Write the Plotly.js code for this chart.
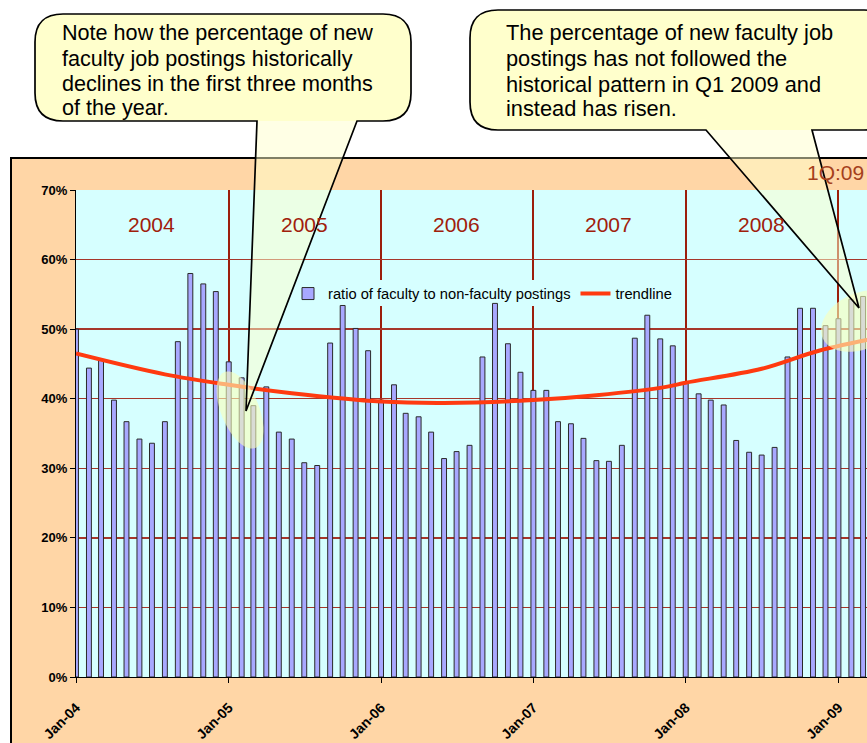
<!DOCTYPE html>
<html><head><meta charset="utf-8">
<script src="https://cdn.plot.ly/plotly-3.0.1.min.js"></script>
<style>
html,body{margin:0;padding:0;background:#fff;overflow:hidden;width:867px;height:743px;}
#box{position:absolute;left:10px;top:157px;width:900px;height:700px;background:#FFD6A6;border-left:2px solid #000;border-top:2px solid #000;}
#chart{position:absolute;left:0;top:0;width:880px;height:743px;}
</style></head><body>
<div id="box"></div><div id="chart"></div>
<script>
// ---- data ----
const v2004 = [50.0, 44.4, 45.5, 39.8, 36.7, 34.2, 33.6, 36.7, 48.2, 58.0, 56.5, 55.4];
const v2005 = [45.3, 43.0, 39.0, 41.7, 35.2, 34.2, 30.8, 30.4, 48.0, 53.4, 50.1, 46.9];
const v2006 = [39.8, 42.0, 37.9, 37.4, 35.2, 31.4, 32.4, 33.3, 46.0, 53.7, 47.9, 43.8];
const v2007 = [41.2, 41.2, 36.7, 36.4, 34.3, 31.1, 31.0, 33.3, 48.7, 52.0, 48.6, 47.6];
const v2008 = [42.2, 40.7, 39.8, 39.1, 34.0, 32.3, 31.9, 33.0, 46.0, 53.0, 53.0, 50.5];
const v2009 = [51.5, 54.3, 54.7];
const ratioValues = [].concat(v2004, v2005, v2006, v2007, v2008, v2009);
const firstYear = 2004;
const months = ratioValues.map((_, i) => {
  const y = firstYear + Math.floor(i / 12), m = (i % 12) + 1;
  return y + '-' + String(m).padStart(2, '0') + '-01';
});

const trendDates  = ['2004-01-01','2004-08-01','2005-01-01','2005-06-01','2006-01-01','2006-06-01','2007-01-01','2007-06-01','2007-11-15','2008-01-01','2008-07-01','2008-11-15','2009-04-01'];
const trendValues = [46.5, 43.5, 42.0, 40.8, 39.6, 39.4, 39.8, 40.5, 41.7, 42.3, 44.3, 46.9, 48.7];

const yearLabels  = ['2004','2005','2006','2007','2008'];
const yearCenters = ['2004-07-01','2005-07-01','2006-07-01','2007-07-01','2008-07-01'];
const quarterLabel = '1Q:09';

const leftNote  = ['Note how the percentage of new','faculty job postings historically','declines in the first three months','of the year.'];
const rightNote = ['The percentage of new faculty job','postings has not followed the','historical pattern in Q1 2009 and','instead has risen.'];

// ---- layout geometry ----
const L = 76, T = 190, W = 800, H = 487;
const X0 = '2004-01-01', X1 = '2009-04-01';
const px = x => (x - L) / W;
const py = y => (T + H - y) / H;
const P = (x, y) => px(x).toFixed(5) + ',' + py(y).toFixed(5);
const tA = Date.parse(X0), tB = Date.parse(X1);
const pxDate = x => new Date(tA + (x - L) / W * (tB - tA)).toISOString();
const pxVal = y => (T + H - y) / H * 70;

function boxPath(x0, y0, x1, y1, r, tail) {
  let d = 'M' + P(x0 + r, y0) + ' L' + P(x1 - r, y0) + ' Q' + P(x1, y0) + ' ' + P(x1, y0 + r) +
          ' L' + P(x1, y1 - r) + ' Q' + P(x1, y1) + ' ' + P(x1 - r, y1);
  if (tail) d += ' L' + P(tail.b2, y1) + ' L' + P(tail.tx, tail.ty) + ' L' + P(tail.b1, y1);
  d += ' L' + P(x0 + r, y1) + ' Q' + P(x0, y1) + ' ' + P(x0, y1 - r) +
       ' L' + P(x0, y0 + r) + ' Q' + P(x0, y0) + ' ' + P(x0 + r, y0) + ' Z';
  return d;
}
function ellipsePath(cx, cy, a, b, ux, uy) {
  const n = Math.hypot(ux, uy); ux /= n; uy /= n;
  const vx = -uy, vy = ux;
  let d = '';
  for (let k = 0; k <= 48; k++) {
    const t = 2 * Math.PI * k / 48;
    const x = cx + a * Math.cos(t) * ux + b * Math.sin(t) * vx;
    const y = cy + a * Math.cos(t) * uy + b * Math.sin(t) * vy;
    d += (k === 0 ? 'M' : ' L') + P(x, y);
  }
  return d + ' Z';
}

const leftBox  = {x0: 35, y0: 14, x1: 411, y1: 121, r: 28, tail: {b1: 257, b2: 357, tx: 246, ty: 411}};
const rightBox = {x0: 470, y0: 10, x1: 892, y1: 130, r: 28, tail: {b1: 706, b2: 812, tx: 859, ty: 308}};

const shapes = [];
// legend background: hides gridlines but stays under the bars
shapes.push({type: 'rect', xref: 'x', yref: 'y', layer: 'between',
  x0: pxDate(286), x1: pxDate(672), y0: pxVal(306), y1: pxVal(280),
  fillcolor: '#D6FFFF', line: {width: 0}});
[leftBox, rightBox].forEach(b => {
  shapes.push({type: 'path', xref: 'paper', yref: 'paper', layer: 'above',
    path: boxPath(b.x0, b.y0, b.x1, b.y1, b.r, null), fillcolor: '#FFFFCC', line: {width: 0}});
});
shapes.push({type: 'path', xref: 'paper', yref: 'paper', layer: 'above',
  path: ellipsePath(240, 410, 41, 19, 0.38, 0.93), fillcolor: 'rgba(250,255,185,0.6)', line: {width: 0}});
shapes.push({type: 'path', xref: 'paper', yref: 'paper', layer: 'above',
  path: ellipsePath(861, 321, 42, 28, 0.91, -0.41), fillcolor: 'rgba(250,255,185,0.6)', line: {width: 0}});
[leftBox, rightBox].forEach(b => {
  shapes.push({type: 'path', xref: 'paper', yref: 'paper', layer: 'above',
    path: boxPath(b.x0, b.y0, b.x1, b.y1, b.r, b.tail), fillcolor: 'rgba(255,255,204,0.5)',
    line: {color: '#000', width: 1.7}});
});

const FONT = 'Arial, "Liberation Sans", sans-serif';
const annotations = [];
yearLabels.forEach((t, i) => annotations.push({xref: 'x', yref: 'y', x: yearCenters[i], y: 65,
  text: t, showarrow: false, font: {family: FONT, size: 21, color: '#A0200C'}, xanchor: 'center', yanchor: 'middle'}));
annotations.push({xref: 'paper', yref: 'paper', x: px(835), y: py(172), text: quarterLabel, showarrow: false,
  font: {family: FONT, size: 21, color: '#A5401C'}, xanchor: 'center', yanchor: 'middle'});
const lineY = [33, 58, 83, 107];
leftNote.forEach((t, i) => annotations.push({xref: 'paper', yref: 'paper', x: px(60), y: py(lineY[i]), text: t,
  showarrow: false, font: {family: FONT, size: 21.6, color: '#000'}, xanchor: 'left', yanchor: 'middle'}));
const lineY2 = [33, 59, 84, 108];
rightNote.forEach((t, i) => annotations.push({xref: 'paper', yref: 'paper', x: px(504), y: py(lineY2[i]), text: t,
  showarrow: false, font: {family: FONT, size: 21.8, color: '#000'}, xanchor: 'left', yanchor: 'middle'}));

const traces = [
  {type: 'bar', name: 'ratio of faculty to non-faculty postings', x: months, y: ratioValues,
   marker: {color: '#A8A8FF', line: {color: '#2a2a2a', width: 1}}, hoverinfo: 'skip'},
  {type: 'scatter', mode: 'lines', name: 'trendline', x: trendDates, y: trendValues,
   line: {color: '#FF3A10', width: 4, shape: 'spline', smoothing: 1}, hoverinfo: 'skip'}
];

const layout = {
  width: 880, height: 743,
  margin: {l: L, r: 880 - L - W, t: T, b: 743 - T - H, pad: 0},
  paper_bgcolor: 'rgba(0,0,0,0)', plot_bgcolor: '#D6FFFF',
  bargap: 0.58,
  showlegend: true,
  legend: {orientation: 'h', x: px(288), y: py(294), xanchor: 'left', yanchor: 'middle',
    bgcolor: 'rgba(0,0,0,0)', font: {family: FONT, size: 14.7, color: '#000'}, borderwidth: 0},
  xaxis: {type: 'date', range: [X0, X1], tick0: X0, dtick: 'M12',
    tickformat: '%b-%y', tickangle: -45, ticks: 'outside', ticklen: 5, tickcolor: '#000',
    ticklabelstandoff: 11,
    showline: true, linecolor: '#000', linewidth: 1, showgrid: true, gridcolor: '#9C1E0C', gridwidth: 2,
    tickfont: {family: FONT, size: 14, color: '#000', weight: 'bold'}, automargin: false, fixedrange: true},
  yaxis: {range: [0, 70], dtick: 10, ticksuffix: '%', ticks: 'outside', ticklen: 5, tickcolor: '#000',
    showline: true, linecolor: '#000', linewidth: 1, showgrid: true, gridcolor: '#A6362A', gridwidth: 1.5,
    zeroline: false, tickfont: {family: FONT, size: 13, color: '#000', weight: 'bold'}, automargin: false, fixedrange: true},
  shapes: shapes,
  annotations: annotations
};

Plotly.newPlot('chart', traces, layout, {displayModeBar: false, staticPlot: true});
</script>
</body></html>
